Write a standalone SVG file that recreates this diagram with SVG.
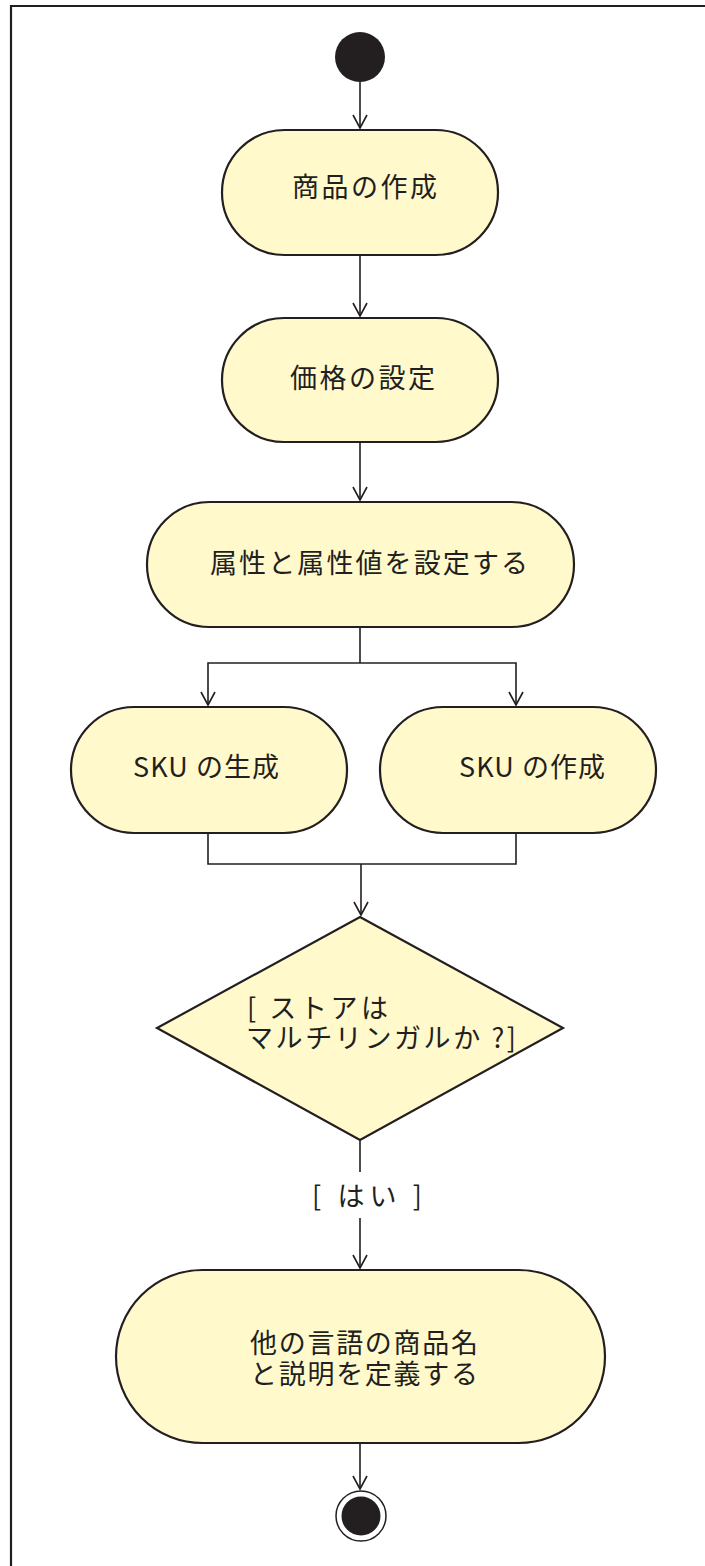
<svg xmlns="http://www.w3.org/2000/svg" width="705" height="1566" viewBox="0 0 705 1566">
<defs>
<style>
.node{fill:#fff9cc;stroke:#231f20;stroke-width:2.2}
.edge{fill:none;stroke:#231f20;stroke-width:1.6}
.lbl{font-family:"Noto Sans CJK JP","Noto Sans",sans-serif;font-size:27px;fill:#231f20}
</style>
<marker id="arr" viewBox="0 0 16 16" refX="14" refY="8" markerWidth="16" markerHeight="16" markerUnits="userSpaceOnUse" orient="auto">
<path d="M1 1 L14 8 L1 15" fill="none" stroke="#231f20" stroke-width="1.6"/>
</marker>
</defs>
<rect width="705" height="1566" fill="#fff"/>
<path d="M11 1566 V6 H705" fill="none" stroke="#231f20" stroke-width="2.2"/>
<g id="start"><circle cx="360" cy="57" r="25" fill="#231f20"/></g>
<g id="n1"><rect class="node" x="222" y="130" width="276" height="125" rx="62.5"/><text class="lbl" x="292" y="197" textLength="145">商品の作成</text></g>
<g id="n2"><rect class="node" x="222" y="318" width="276" height="124" rx="62"/><text class="lbl" x="290" y="388" textLength="145">価格の設定</text></g>
<g id="n3"><rect class="node" x="147" y="502" width="427" height="125" rx="62.5"/><text class="lbl" x="210" y="573" textLength="318">属性と属性値を設定する</text></g>
<g id="n4"><rect class="node" x="71" y="707" width="276" height="126" rx="63"/><text class="lbl" x="133" y="777" textLength="146">SKU の生成</text></g>
<g id="n5"><rect class="node" x="380" y="707" width="276" height="126" rx="63"/><text class="lbl" x="459" y="777" textLength="146">SKU の作成</text></g>
<g id="d1"><polygon class="node" points="360,917 563,1028 360,1140 157,1028"/><text class="lbl"><tspan x="247" y="1018" textLength="141">[ ストアは</tspan><tspan x="246" y="1048" textLength="270">マルチリンガルか ?]</tspan></text></g>
<g id="n6"><rect class="node" x="116" y="1270" width="489" height="173" rx="86.5"/><text class="lbl"><tspan x="250" y="1353" textLength="228">他の言語の商品名</tspan><tspan x="250" y="1384" textLength="228">と説明を定義する</tspan></text></g>
<g id="end"><circle cx="361" cy="1516" r="25" fill="#fff" stroke="#231f20" stroke-width="1.5"/><circle cx="361" cy="1516" r="19.5" fill="#231f20"/></g>
<g id="connectors">
<path class="edge" d="M360 82 V128" marker-end="url(#arr)"/>
<path class="edge" d="M360 255 V316" marker-end="url(#arr)"/>
<path class="edge" d="M360 442 V500" marker-end="url(#arr)"/>
<path class="edge" d="M360 627 V663"/>
<path class="edge" d="M360 663 H208 V705" marker-end="url(#arr)"/>
<path class="edge" d="M360 663 H516 V705" marker-end="url(#arr)"/>
<path class="edge" d="M208 833 V864 H516 V833"/>
<path class="edge" d="M361 864 V915" marker-end="url(#arr)"/>
<path class="edge" d="M360 1140 V1172"/>
<text class="lbl" x="312" y="1206" textLength="110">[ はい ]</text>
<path class="edge" d="M360 1218 V1268" marker-end="url(#arr)"/>
<path class="edge" d="M360 1443 V1489" marker-end="url(#arr)"/>
</g>
</svg>
